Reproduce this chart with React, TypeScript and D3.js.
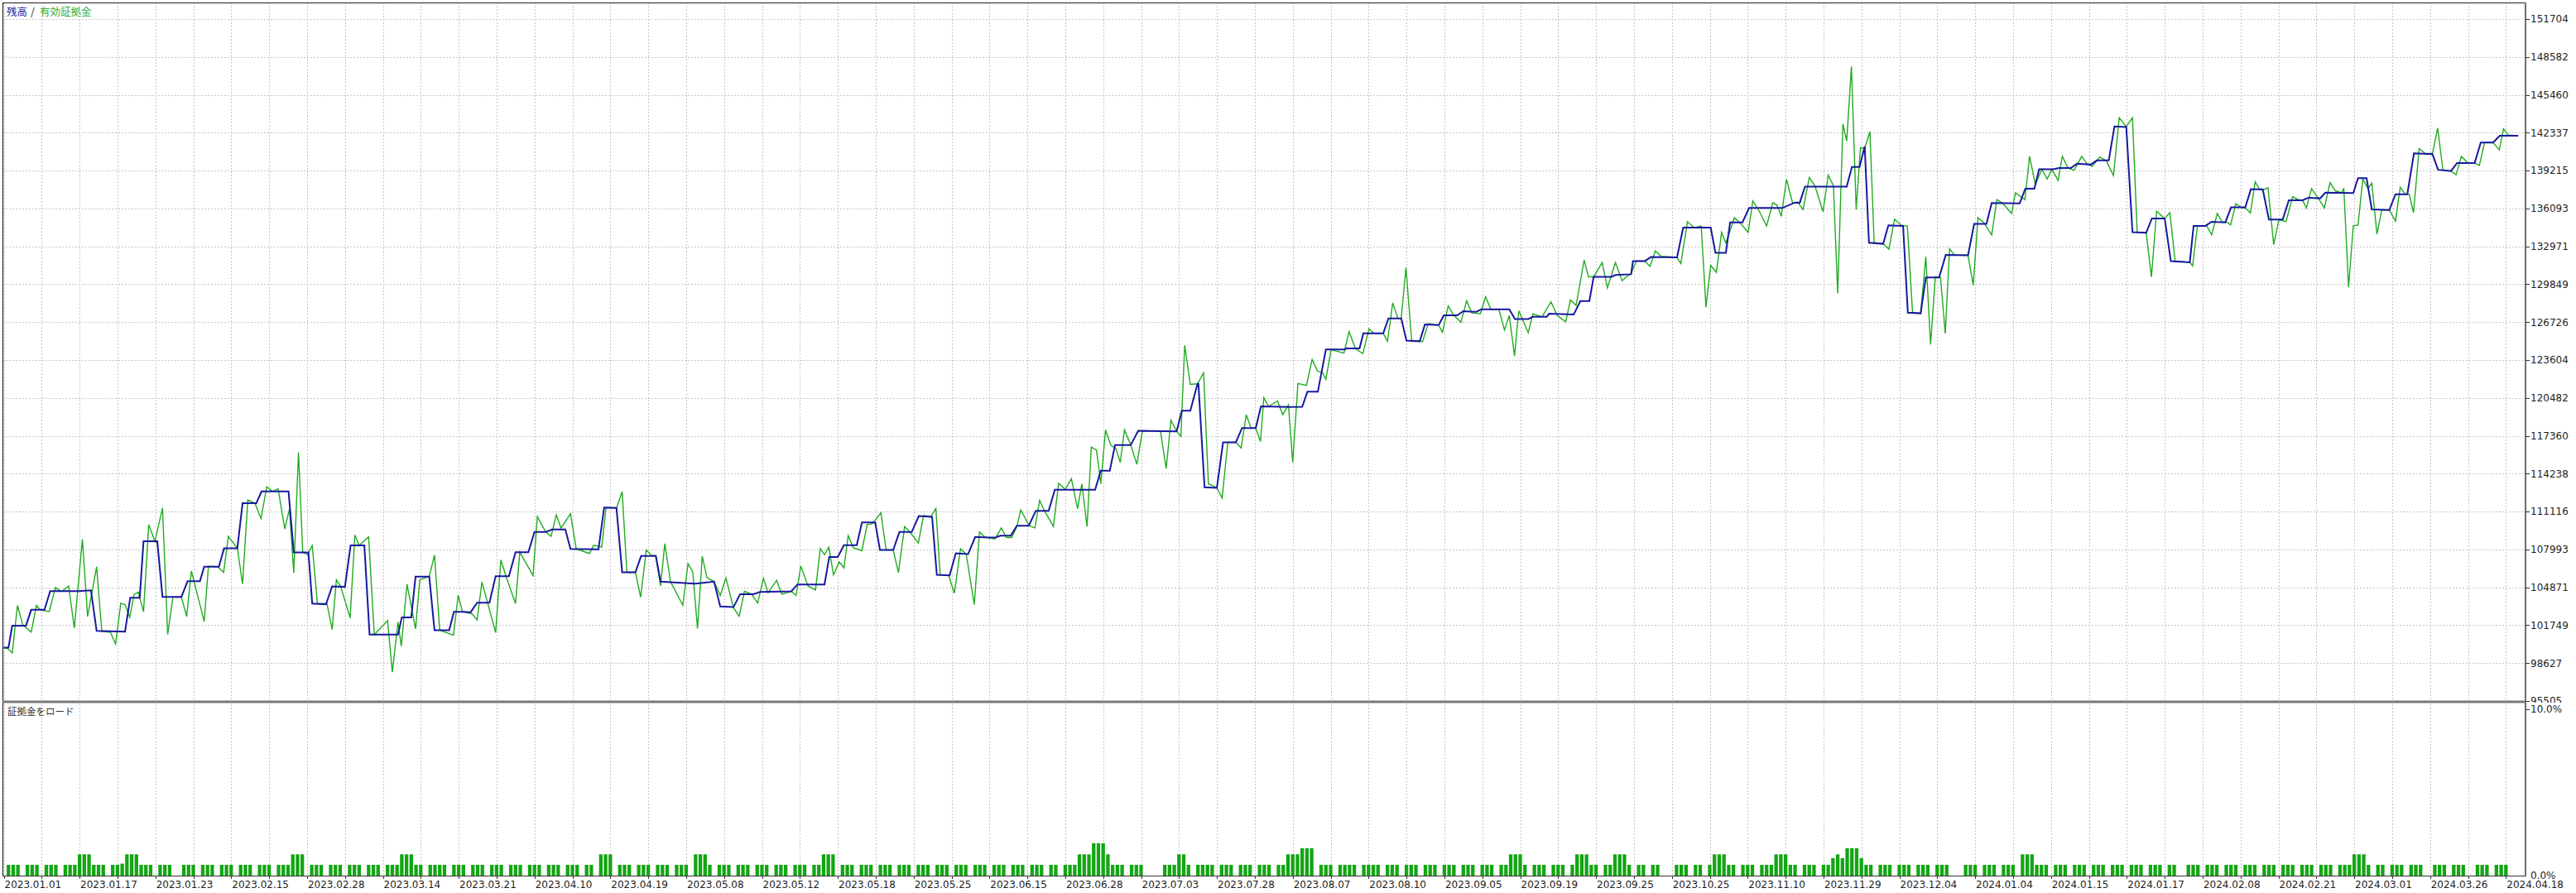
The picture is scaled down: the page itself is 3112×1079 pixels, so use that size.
import React, { useEffect } from "react";
import * as d3 from "d3";

// ---------- DATA ----------
// Right axis tick labels (main panel)
const yTickLabels = [95505, 98627, 101749, 104871, 107993, 111116, 114238, 117360, 120482, 123604, 126726, 129849, 132971, 136093, 139215, 142337, 145460, 148582, 151704];

// Bottom date labels (every 16 deals)
const dateLabels = ["2023.01.01", "2023.01.17", "2023.01.23", "2023.02.15", "2023.02.28", "2023.03.14", "2023.03.21", "2023.04.10", "2023.04.19", "2023.05.08", "2023.05.12", "2023.05.18", "2023.05.25", "2023.06.15", "2023.06.28", "2023.07.03", "2023.07.28", "2023.08.07", "2023.08.10", "2023.09.05", "2023.09.19", "2023.09.25", "2023.10.25", "2023.11.10", "2023.11.29", "2023.12.04", "2024.01.04", "2024.01.15", "2024.01.17", "2024.02.08", "2024.02.21", "2024.03.01", "2024.03.26", "2024.04.18"];

// Balance (残高) vertices: [deal index, value]
const balance: [number, number][] = [
  [0, 99900], [1.0, 99900], [1.8, 101720], [4.7, 101720], [5.8, 103020], [8.6, 103020], [9.8, 104560], [15.9, 104560], [18.4, 104630], [19.6, 101290], [25.6, 101220], [26.7, 104020], [28.7, 104020], [29.5, 108660], [32.4, 108660], [33.5, 104090], [37.5, 104090], [38.8, 105380], [41.4, 105380], [42.3, 106570], [45.4, 106570], [46.5, 108090], [49.3, 108090], [50.4, 111800], [53.3, 111800], [54.4, 112770], [60.1, 112770], [61.2, 107750], [64.3, 107750], [65.1, 103540], [68.0, 103470], [69.3, 104950], [72.0, 104910], [73.2, 108320], [76.1, 108320], [77.2, 100970], [83.2, 100970], [84.0, 102400], [86.0, 102400], [86.9, 105750], [89.8, 105750], [90.9, 101340], [94.0, 101340], [95.0, 102860], [97.2, 102860], [98.5, 102810], [99.9, 103610], [102.5, 103610], [103.8, 105790], [106.6, 105790], [108.0, 107770], [110.7, 107770], [112.0, 109430], [114.4, 109430], [115.7, 109640], [118.5, 109640], [119.6, 108040], [125.5, 108000], [126.7, 111450], [129.3, 111410], [130.5, 106110], [133.3, 106110], [134.5, 107450],
  [137.6, 107450], [138.6, 105340], [141.5, 105270], [145.9, 105180], [149.9, 105340], [151.2, 103290], [154.0, 103240], [155.4, 104310], [158.2, 104310], [159.6, 104490], [166.2, 104540], [167.5, 105110], [173.2, 105110], [174.2, 107380], [176.0, 107380], [177.3, 108340], [180.0, 108340], [181.1, 110220], [183.9, 110220], [184.9, 107950], [187.7, 107950], [189.0, 109430], [191.6, 109430], [193.1, 110750], [195.9, 110680], [196.9, 105900], [199.6, 105860], [200.9, 107680], [203.5, 107610], [205.0, 109020], [207.9, 108970], [209.2, 108970], [210.3, 109130], [212.5, 109130], [213.8, 109950], [216.3, 109950], [217.8, 111180], [220.5, 111180], [221.8, 112910], [230.3, 112910], [231.5, 114480], [233.4, 114480], [234.5, 116590], [237.8, 116590], [239.4, 117770], [247.5, 117730], [248.6, 119430], [250.4, 119430], [251.9, 121640], [252.1, 121640], [253.4, 113110], [256.0, 113070], [257.3, 116820], [260.0, 116820], [261.3, 118000], [264.2, 118000], [265.3, 119780], [271.5, 119730],
  [274.0, 119750], [275.1, 120990], [277.3, 120990], [279.0, 124470], [283.0, 124470], [283.2, 124560], [286.1, 124560], [286.9, 125800], [291.1, 125800], [292.2, 127040], [294.9, 127040], [296.0, 125210], [298.8, 125150], [299.9, 126540], [302.8, 126480], [303.9, 127280], [306.7, 127280], [308.0, 127630], [310.7, 127570], [311.8, 127780], [317.7, 127780], [318.9, 126980], [321.7, 126980], [322.7, 127160], [325.6, 127160], [326.1, 127420], [331.3, 127360], [332.7, 128460], [334.6, 128460], [335.5, 130460], [339.3, 130460], [340.1, 130610], [343.4, 130670], [343.8, 131760], [346.3, 131760], [347.6, 132090], [353.1, 132060], [354.4, 134510], [360.2, 134510], [361.2, 132440], [363.4, 132440], [364.3, 134950], [366.9, 134950], [368.3, 136130], [375.3, 136130], [377.9, 136570], [379.0, 136570], [380.1, 137900], [388.9, 137900], [390.0, 139520], [391.6, 139520], [392.7, 141200], [393.6, 133270], [396.6, 133180], [397.7, 134710], [400.8, 134650], [401.8, 127510], [404.5, 127450],
  [405.6, 130410], [408.4, 130410], [409.8, 132270], [414.5, 132230], [415.8, 134820], [418.4, 134820], [419.5, 136550], [425.4, 136520], [426.6, 137730], [428.5, 137730], [429.5, 139320], [432.5, 139320], [433.7, 139430], [436.2, 139430], [437.5, 139780], [440.4, 139710], [441.7, 140050], [444.2, 140050], [445.4, 142850], [447.9, 142800], [449.2, 134140], [452.1, 134090], [453.3, 135270], [456.0, 135270], [457.3, 131750], [461.3, 131660], [462.1, 134660], [464.6, 134660], [465.9, 135000], [468.8, 134950], [470.0, 136180], [473.0, 136180], [474.2, 137680], [476.7, 137660], [478.0, 135180], [480.9, 135180], [482.2, 136770], [485.1, 136770], [486.3, 136980], [488.8, 136930], [489.9, 137390], [495.8, 137360], [496.8, 138590], [498.6, 138590], [499.7, 136020], [503.4, 135960], [504.7, 137270], [507.2, 137270], [508.6, 140640], [512.5, 140570], [513.7, 139280], [516.4, 139180], [517.7, 139840], [521.4, 139840], [522.7, 141530], [525.3, 141530], [526.7, 142090], [530.6, 142090],
];

// Equity (有効証拠金) vertices: [deal index, value]
const equity: [number, number][] = [
  [0, 99900], [0.8, 99830], [1.8, 99470], [2.9, 103380], [4.0, 101790], [5.8, 101180], [6.9, 103380], [7.7, 103020], [9.6, 102880], [10.9, 104860], [12.2, 104520], [13.7, 104970], [14.9, 101520], [16.6, 108840], [17.7, 102470], [19.6, 106570], [20.7, 101220], [22.5, 101180], [23.6, 100200], [24.7, 103560], [25.6, 103450], [26.6, 102400], [27.5, 104290], [28.4, 104470], [29.5, 102860], [30.6, 110040], [31.9, 108660], [33.5, 111410], [34.6, 100990], [35.7, 104060], [37.5, 104060], [38.6, 102470], [39.6, 106220], [42.3, 102060], [43.2, 106610], [45.1, 106570], [46.4, 106110], [47.4, 109070], [49.3, 108090], [50.4, 105150], [51.5, 112070], [53.0, 111800], [54.3, 110540], [55.5, 113160], [56.8, 112770], [57.9, 113000], [59.3, 109680], [60.3, 111340], [61.2, 106060], [62.2, 116000], [63.1, 107750], [64.1, 107590], [65.1, 108320], [66.2, 103540], [68.2, 103540], [69.3, 101400], [70.2, 105490], [71.1, 104950], [73.1, 102360], [74.1, 109180], [75.0, 108320], [77.0, 109020], [78.2, 100970], [81.0, 102130], [82.0, 97880], [83.2, 102020], [83.9, 100020], [85.1, 105130], [86.9, 101450], [87.8, 105490], [89.8, 105770], [90.9, 107540], [92.0, 101340], [94.9, 100930], [95.9, 104220], [96.8, 102860], [98.8, 102700], [99.9, 102180], [100.9, 105310], [102.1, 103610], [103.8, 101150], [104.9, 107130], [106.0, 105770], [108.0, 103540], [108.9, 107770], [111.7, 105840], [112.6, 110700], [114.4, 109410], [115.5, 109070], [116.6, 110840], [117.6, 109750], [119.6, 110950], [120.8, 108040], [123.6, 107660], [124.5, 108340], [126.2, 108200], [127.1, 111450], [129.3, 111410], [130.5, 112750], [131.5, 106110], [133.3, 106110], [134.4, 104060],
  [135.6, 107950], [136.7, 107500], [137.6, 107500], [138.6, 104990], [139.5, 108470], [140.7, 105340], [143.3, 103400], [144.4, 106810], [145.4, 106130], [146.4, 101470], [147.4, 107430], [148.4, 105680], [149.9, 105340], [151.2, 104200], [152.4, 105630], [154.0, 103180], [155.2, 102490], [156.3, 104540], [157.8, 104310], [159.1, 103580], [160.3, 105610], [161.3, 104430], [163.1, 105450], [164.2, 104310], [166.2, 104540], [167.2, 104200], [168.2, 106630], [169.7, 104990], [171.3, 104650], [172.3, 108060], [173.2, 107560], [174.1, 108180], [175.1, 105900], [176.3, 106970], [177.3, 106470], [178.2, 109130], [179.3, 108130], [181.1, 107900], [182.2, 110040], [183.3, 110110], [185.1, 111020], [186.2, 107950], [187.7, 107950], [188.8, 106090], [190.1, 109880], [191.2, 109430], [193.0, 108520], [194.1, 110790], [195.6, 110680], [196.7, 111360], [197.6, 105900], [199.4, 105860], [200.6, 104380], [201.9, 108040], [203.1, 107610], [204.8, 103450], [205.9, 109430], [207.0, 109020], [209.2, 108860], [210.5, 109770], [211.6, 108970], [212.7, 108970], [213.8, 109880], [214.6, 111250], [216.4, 109950], [217.6, 109770], [218.6, 112040], [219.6, 111180], [221.5, 109880], [222.6, 113450], [224.0, 112950], [225.3, 113820], [226.6, 111360], [227.5, 113410], [228.6, 109880], [229.5, 116430], [230.6, 116180], [231.5, 113410], [232.5, 117840], [233.6, 116590], [234.7, 116300], [235.6, 115160], [236.5, 117840], [237.8, 116640], [239.1, 115000], [240.3, 117770], [244.1, 117730], [245.3, 114660], [246.3, 118640], [247.5, 117730], [248.4, 117320], [249.2, 124820], [250.4, 121590], [251.9, 121640], [253.2, 122550], [254.2, 113410], [256.0, 113070], [257.1, 112230], [258.3, 116820], [260.0, 116820], [261.1, 116360], [262.2, 119090], [263.2, 118000], [264.2, 118000], [265.2, 116890], [265.9, 120500], [266.9, 119780], [268.8, 120230],
  [269.9, 119100], [271.1, 119900], [272.0, 115180], [273.1, 121670], [274.9, 121520], [276.1, 123650], [277.3, 122640], [278.2, 122640], [279.0, 122020], [280.1, 124470], [282.8, 124180], [283.9, 125950], [285.2, 124560], [286.8, 124120], [288.1, 126180], [289.1, 125800], [291.1, 125800], [292.0, 125150], [293.1, 128310], [294.2, 127040], [294.9, 127040], [295.9, 131200], [297.1, 125210], [299.4, 125120], [300.6, 126600], [302.8, 126480], [303.6, 125890], [304.8, 128070], [306.0, 127280], [307.5, 126720], [308.7, 128490], [309.8, 127480], [311.6, 127420], [312.7, 128810], [313.8, 127780], [315.5, 127780], [316.7, 126070], [317.7, 127280], [318.8, 123940], [319.7, 127660], [321.7, 125860], [322.7, 127420], [324.6, 127160], [326.5, 128400], [327.8, 127280], [329.6, 126750], [330.6, 128550], [331.8, 128100], [333.5, 131850], [334.4, 130460], [335.5, 130460], [337.3, 131640], [338.4, 129550], [340.1, 131640], [341.5, 130140], [342.3, 130430], [343.4, 130730], [344.5, 131760], [346.3, 131760], [347.4, 131320], [348.5, 132590], [349.8, 132150], [353.1, 132060], [353.9, 131560], [355.3, 135010], [356.7, 134510], [358.2, 134650], [359.2, 127960], [360.2, 131410], [361.4, 130820], [362.5, 134120], [363.4, 133240], [365.2, 135330], [366.3, 134950], [368.1, 134120], [369.1, 136720], [370.5, 135830], [372.0, 134650], [373.3, 136570], [374.2, 136370], [375.1, 135450], [376.2, 138490], [377.5, 136510], [378.5, 136630], [379.7, 136010], [381.0, 138640], [382.2, 137960], [383.9, 135830], [385.0, 138840], [386.1, 137960], [387.0, 129100], [388.1, 143060], [388.9, 141650], [389.9, 147790], [390.9, 136010], [391.8, 141090], [392.7, 141060], [393.8, 142410], [394.7, 133270], [396.6, 133180], [397.8, 132740], [399.0, 135210], [400.4, 134710], [401.7, 134650], [402.8, 127510], [404.5, 127450],
  [405.6, 132110], [406.6, 124880], [407.6, 130450], [408.7, 130410], [409.7, 125790], [410.6, 132770], [411.6, 132270], [414.5, 132230], [415.6, 129770], [416.6, 135340], [417.9, 134890], [419.5, 133910], [420.6, 136820], [421.8, 136520], [423.7, 135680], [424.5, 137390], [426.5, 136820], [427.5, 140390], [428.7, 138070], [430.1, 139320], [431.2, 138520], [432.2, 139320], [433.5, 138410], [434.4, 140390], [435.6, 139430], [436.9, 139250], [438.5, 140390], [439.6, 139780], [440.7, 139550], [442.3, 140340], [443.7, 140000], [445.2, 138800], [446.4, 143570], [447.9, 142850], [449.2, 143570], [450.2, 134140], [452.1, 134090], [453.2, 130450], [454.3, 135860], [456.0, 135270], [457.1, 135750], [458.2, 131750], [461.3, 131660], [461.9, 131360], [462.9, 134660], [464.9, 134660], [465.9, 133910], [467.1, 135680], [468.1, 135000], [469.2, 134950], [469.9, 134730], [471.0, 136480], [472.1, 136180], [473.0, 136140], [474.1, 135730], [475.1, 138300], [475.9, 137730], [477.0, 137660], [477.8, 137800], [479.0, 133110], [480.1, 135180], [481.6, 135000], [483.0, 137050], [484.2, 136820], [485.1, 136770], [485.9, 136140], [487.0, 137730], [488.4, 136930], [489.7, 136140], [490.9, 138230], [492.0, 137550], [493.4, 137390], [493.8, 137770], [494.8, 129590], [495.8, 134660], [496.8, 134730], [497.8, 138520], [498.9, 137730], [499.7, 138180], [500.8, 133980], [501.8, 135960], [503.4, 135960], [504.7, 135050], [505.7, 137840], [506.8, 137270], [507.6, 137270], [508.5, 135750], [509.7, 141030], [511.0, 140620], [512.5, 140620], [513.6, 142730], [514.7, 139280], [516.4, 139180], [517.5, 138870], [518.6, 140390], [520.0, 139840], [521.4, 139840], [522.4, 139640], [523.5, 141530], [525.3, 141530], [526.6, 140910], [527.5, 142660], [528.5, 142140], [530.6, 142090],
];

// Margin load (証拠金をロード) per deal, as level codes (rows of 10 deals)
const loadLevels = [0, 0.65, 0.72, 1.05, 1.28, 1.65, 1.95]; // percent per code
const loadCodes = [
  "0111011101", "1101114441", "1101124441", "1101110011", "1011101110", "1110111011", "1444011101", "1101110111", "0111444110", "1111011101",
  "1101110111", "0111011101", "1101104440", "1110111011", "1011104441", "0111011101", "1101110111", "0114440111", "0111011101", "1101110111",
  "0111011101", "1101110111", "0110111444", "6664111011", "1000011144", "1011110111", "0111011101", "1444555011", "1011110111", "1011101110",
  "1110111011", "1011101144", "4101110111", "0144411011", "4441011011", "0001110110", "1444110111", "0111444110", "1110113435", "5531101110",
  "1110111011", "1000111011", "1011104441", "1101110111", "0111011101", "1101110110", "0111011101", "1101110111", "0111011101", "1101114441",
  "0110111011", "1001110111", "001110111",
];

// ---------- LAYOUT ----------
const W = 3112;
const H = 1079;
const L = 3;
const R = 3051;
const TOP = 3;
const SEP = 848;
const BOT = 1058;
const LAST_LABEL_INDEX = 528;

const font = "'DejaVu Sans', Verdana, sans-serif";
const cjk = "'Noto Sans CJK JP', 'Noto Sans', sans-serif";

export default function App() {
  useEffect(() => {
    document.body.style.margin = "0";
  }, []);

  const x = d3.scaleLinear().domain([0, LAST_LABEL_INDEX]).range([4.5, 3027.3]);
  const yMain = d3.scaleLinear().domain([95505, 151704]).range([847, 23]);
  const yLow = d3.scaleLinear().domain([0, 10]).range([BOT, 857]);

  const line = d3
    .line<[number, number]>()
    .x((d) => x(d[0]))
    .y((d) => yMain(d[1]));

  const loads = loadCodes.join("").split("").map((c) => loadLevels[+c]);

  const gridIdx = d3.range(0, LAST_LABEL_INDEX + 1, 8);
  const barW = 4.3;

  return (
    <svg
      width={W}
      height={H}
      viewBox={`0 0 ${W} ${H}`}
      style={{ position: "absolute", left: 0, top: 0, display: "block", background: "#fff" }}
    >
      <defs>
        <clipPath id="mainClip">
          <rect x={L} y={TOP} width={R - L} height={SEP - TOP} />
        </clipPath>
        <clipPath id="axisClip">
          <rect x={R} y={0} width={W - R} height={849} />
        </clipPath>
      </defs>
      <rect x={0} y={0} width={W} height={H} fill="#ffffff" />

      {/* horizontal grid - main */}
      <g stroke="#c6c6c6" strokeWidth={1} strokeDasharray="2,2">
        {yTickLabels.map((v) => (
          <line key={"h" + v} x1={L} x2={R} y1={Math.round(yMain(v)) + 0.5} y2={Math.round(yMain(v)) + 0.5} />
        ))}
        {gridIdx.map((i) => (
          <line key={"v" + i} x1={Math.round(x(i)) + 0.5} x2={Math.round(x(i)) + 0.5} y1={TOP} y2={BOT} />
        ))}
      </g>

      {/* equity & balance lines */}
      <g clipPath="url(#mainClip)">
        <path d={line(equity) || ""} fill="none" stroke="#21ab21" strokeWidth={1.4} strokeLinejoin="miter" />
        <path d={line(balance) || ""} fill="none" stroke="#1818a0" strokeWidth={2} strokeLinejoin="miter" />
      </g>

      {/* margin load bars */}
      <g fill="#13a513">
        {loads.map((v, i) =>
          v > 0 ? (
            <rect key={"b" + i} x={x(i) - barW / 2} y={yLow(v)} width={barW} height={BOT - yLow(v)} />
          ) : null
        )}
      </g>

      {/* frame */}
      <line x1={L + 0.5} x2={L + 0.5} y1={TOP} y2={BOT} stroke="#222" strokeWidth={1.2} />
      <line x1={L} x2={R} y1={TOP + 0.5} y2={TOP + 0.5} stroke="#222" strokeWidth={1.2} />
      <line x1={R} x2={R} y1={TOP} y2={BOT + 1} stroke="#6e6e6e" strokeWidth={2} />
      <line x1={L} x2={R} y1={SEP} y2={SEP} stroke="#7a7a7a" strokeWidth={3} />
      <line x1={L} x2={R} y1={BOT + 0.5} y2={BOT + 0.5} stroke="#333" strokeWidth={1.2} />

      {/* bottom ticks */}
      <g stroke="#333" strokeWidth={1}>
        {gridIdx.map((i) => (
          <line key={"t" + i} x1={Math.round(x(i)) + 0.5} x2={Math.round(x(i)) + 0.5} y1={BOT} y2={BOT + 4} />
        ))}
      </g>

      {/* right axis ticks & labels */}
      <g clipPath="url(#axisClip)">
        {yTickLabels.map((v) => (
          <g key={"yl" + v}>
            <line x1={R} x2={R + 5} y1={Math.round(yMain(v)) + 0.5} y2={Math.round(yMain(v)) + 0.5} stroke="#333" />
            <text x={R + 6} y={yMain(v)} dy="0.36em" fontFamily={font} fontSize={12} fill="#1e1e1e">
              {v}
            </text>
          </g>
        ))}
      </g>
      <line x1={R} x2={R + 5} y1={yLow(10) + 0.5} y2={yLow(10) + 0.5} stroke="#333" />
      <text x={R + 6} y={yLow(10)} dy="0.36em" fontFamily={font} fontSize={12} fill="#1e1e1e">10.0%</text>
      <text x={R + 6} y={yLow(0)} dy="0.36em" fontFamily={font} fontSize={12} fill="#1e1e1e">0.0%</text>

      {/* date labels */}
      <g fontFamily={font} fontSize={12} fill="#1e1e1e">
        {dateLabels.map((d, i) => (
          <text key={d + i} x={x(i * 16) + 1} y={1072.5}>
            {d}
          </text>
        ))}
      </g>

      {/* legends */}
      <text x={8} y={14} dy="0.36em" fontFamily={cjk} fontSize={12.5} fill="#25259a">残高</text>
      <text x={37} y={14} dy="0.36em" fontFamily={cjk} fontSize={12.5} fill="#222">/</text>
      <text x={48} y={14} dy="0.36em" fontFamily={cjk} fontSize={12.5} fill="#2fae2f">有効証拠金</text>
      <text x={9} y={860} dy="0.36em" fontFamily={cjk} fontSize={11.5} fill="#333">証拠金をロード</text>
    </svg>
  );
}
